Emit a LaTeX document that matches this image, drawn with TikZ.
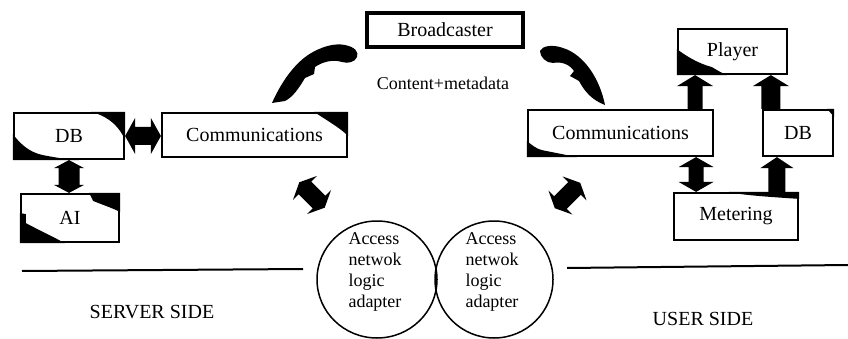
\documentclass[tikz,border=0pt]{standalone}
\usepackage{fontspec}
\setmainfont{Liberation Serif}
\usetikzlibrary{calc,shapes.geometric}

% Block arrow with a head at both ends: #1,#2 end points, #3 head length,
% #4 half width of the heads, #5 half width of the shaft
\newcommand\blockdbl[5]{%
  \path ($(#1)!#3!(#2)$) coordinate (ba) ($(#2)!#3!(#1)$) coordinate (bb);
  \fill (#1) -- ($(ba)!#4!90:(#2)$) -- ($(ba)!#5!90:(#2)$)
    -- ($(bb)!#5!-90:(#1)$) -- ($(bb)!#4!-90:(#1)$) -- (#2)
    -- ($(bb)!#4!90:(#1)$) -- ($(bb)!#5!90:(#1)$)
    -- ($(ba)!#5!-90:(#2)$) -- ($(ba)!#4!-90:(#2)$) -- cycle;}
% Block arrow with its head at #2
\newcommand\blocksgl[5]{%
  \path ($(#2)!#3!(#1)$) coordinate (bb);
  \fill ($(#1)!#5!90:(#2)$) -- ($(bb)!#5!-90:(#1)$) -- ($(bb)!#4!-90:(#1)$)
    -- (#2) -- ($(bb)!#4!90:(#1)$) -- ($(bb)!#5!90:(#1)$)
    -- ($(#1)!#5!-90:(#2)$) -- cycle;}

\tikzset{
  box/.style={draw, line width=2.2pt, inner sep=0pt,
    font=\fontsize{20}{24}\selectfont},
  adapter/.style={draw, ellipse, line width=1.5pt, inner sep=0pt},
  adaptertext/.style={align=left, inner sep=0pt,
    font=\fontsize{18}{21}\selectfont},
  sidelabel/.style={anchor=base, inner sep=0pt,
    font=\fontsize{20}{24}\selectfont},
  divider/.style={line width=2pt},
}

\begin{document}
\begin{tikzpicture}[x=1pt,y=-1pt]
\useasboundingbox (0,0) rectangle (848,339);

% boxes
\node[box, line width=3.5pt, minimum width=156pt, minimum height=34pt] (bc) at (445,30) {Broadcaster};
\node[box, minimum width=110pt, minimum height=46pt] (db1) at (69,136) {DB};
\node[box, minimum width=185pt, minimum height=44pt] (com1) at (254.5,135) {Communications};
\node[box, minimum width=98pt, minimum height=48pt] (ai) at (70,218) {AI};
\node[box, minimum width=109pt, minimum height=45pt] (player) at (732.5,51.5) {Player};
\node[box, minimum width=185pt, minimum height=46pt] (com2) at (620.5,133) {Communications};
\node[box, minimum width=70pt, minimum height=46pt] (db2) at (798,133) {DB};
\node[box, minimum width=124pt, minimum height=47pt] (meter) at (736,216.5) {Metering};

\node[inner sep=0pt, font=\fontsize{18}{21}\selectfont] (cm) at (443,83) {Content+metadata};

% black corner patches of the boxes
\fill[shift={(bc.south west)}] (0,0) -- (0,-5) -- (6,0) -- cycle;
\fill[shift={(db1.north east)}] (0,0) -- (-34,0) .. controls (-22,3) and (-8,10) .. (0,28) -- cycle;
\fill[shift={(db1.south west)}] (0,0) -- (0,-26) .. controls (6,-18) and (15,-8) .. (30,-5)
  .. controls (45,-2) and (60,0) .. (66,0) -- cycle;
\fill[shift={(com1.north east)}] (0,0) -- (-34,0) .. controls (-22,8) and (-8,16) .. (0,24) -- cycle;
\fill[shift={(ai.north east)}] (0,0) -- (-31,0) -- (-27,8) .. controls (-20,11) and (-8,15) .. (0,19) -- cycle;
\fill[shift={(ai.south west)}] (0,0) -- (0,-30) -- (6,-29) -- (6,-20)
  .. controls (15,-15) and (30,-8) .. (41,-2) -- (45,0) -- cycle;
\fill[shift={(player.south west)}] (0,0) -- (0,-26) .. controls (8,-20) and (20,-12) .. (35,-8)
  .. controls (40,-5) and (45,-2) .. (50,0) -- cycle;
\fill[shift={(com2.south west)}] (0,0) -- (0,-16) .. controls (5,-12) and (10,-8) .. (15,-7)
  .. controls (25,-5) and (40,-2) .. (50,0) -- cycle;
\fill[shift={(db2.north east)}] (0,0) -- (-7,0) -- (0,8) -- cycle;
\fill[shift={(meter.north east)}] (0,0) -- (-70,0) .. controls (-60,3) and (-30,5) .. (0,7) -- cycle;

% access network adapters
\node[adapter, minimum width=120pt, minimum height=117pt] (e1) at (377,279.5) {};
\node[adapter, minimum width=118pt, minimum height=117pt] (e2) at (494,279.5) {};
\node[adaptertext] (t1) at ($(e1.center)+(-2,-8)$) {Access\\netwok\\logic\\adapter};
\node[adaptertext] (t2) at ($(e2.center)+(-2,-8)$) {Access\\netwok\\logic\\adapter};

% straight block arrows between boxes
\coordinate (p1) at (db1.east);
\coordinate (p2) at (db1.east -| com1.west);
\blockdbl{p1}{p2}{10pt}{18pt}{9pt}
\coordinate (q1) at (db1.south);
\coordinate (q2) at (db1.south |- ai.north);
\blockdbl{q1}{q2}{8pt}{15pt}{10.5pt}
\coordinate (r1) at ($(com2.north east)+(-19,0)$);
\coordinate (r2) at (r1 |- player.south);
\blocksgl{r1}{r2}{11pt}{18pt}{7.5pt}
\coordinate (s1) at ($(db2.north west)+(9,0)$);
\coordinate (s2) at (s1 |- player.south);
\blocksgl{s1}{s2}{11pt}{18pt}{9.5pt}
\coordinate (u1) at ($(com2.south east)+(-18,0)$);
\coordinate (u2) at (u1 |- meter.north);
\blockdbl{u1}{u2}{10pt}{17.5pt}{7.5pt}
\coordinate (v1) at ($(db2.south west)+(15,0)$);
\coordinate (v2) at (v1 |- meter.north);
\blocksgl{v2}{v1}{11pt}{16.5pt}{8.5pt}

% short diagonal block arrows towards the adapters
\coordinate (la1) at (299.3,182.3);
\coordinate (la2) at (324.7,207.7);
\blockdbl{la1}{la2}{8pt}{17pt}{9pt}
\coordinate (ra1) at (580.2,182.8);
\coordinate (ra2) at (554.8,208.2);
\blockdbl{ra1}{ra2}{8pt}{17pt}{9pt}

% curved arrows carrying content from the broadcaster
\fill (272,103) .. controls (280,85) and (292,66) .. (308,55)
  .. controls (322,46) and (335,43) .. (345,45)
  .. controls (355,47) and (359,52) .. (357,57)
  .. controls (355,62) and (348,64) .. (342,62)
  .. controls (333,59) and (322,62) .. (315,67)
  -- (314,74) -- (305,78)
  .. controls (299,88) and (293,97) .. (285,101) -- cycle;
\fill (605,105) .. controls (600,80) and (585,55) .. (563,48)
  .. controls (552,44) and (542,46) .. (540,51)
  .. controls (540,57) and (546,63) .. (553,63)
  .. controls (562,61) and (570,65) .. (574,71)
  -- (570,76) -- (579,81)
  .. controls (585,92) and (592,100) .. (605,105) -- cycle;

% dividing lines and side labels
\coordinate (l1) at (22,271);
\coordinate (l2) at (303,269);
\draw[divider] (l1) -- (l2);
\coordinate (m1) at (567,268);
\coordinate (m2) at (848,265);
\draw[divider] (m1) -- (m2);
\node[sidelabel] (server) at (152,318) {SERVER SIDE};
\node[sidelabel] (user) at (703,325) {USER SIDE};
\end{tikzpicture}
\end{document}
